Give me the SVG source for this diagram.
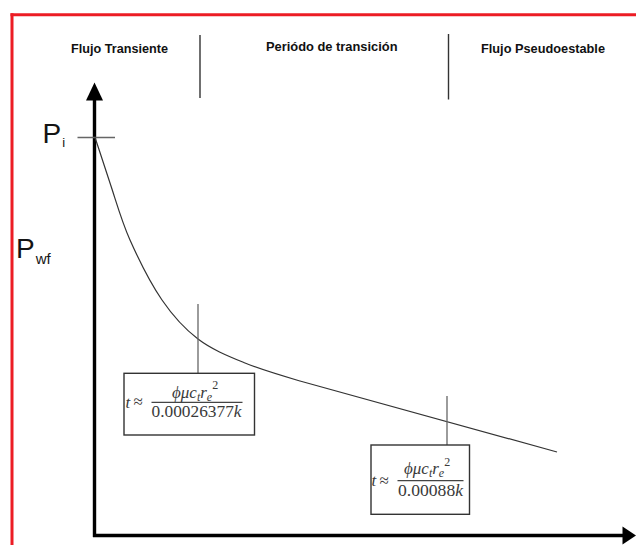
<svg xmlns="http://www.w3.org/2000/svg" width="636" height="545" viewBox="0 0 636 545">
  <style>
    .frame { stroke: #ec1c24; stroke-width: 3; fill: none; }
    .head { font-family: "Liberation Sans", Arial, sans-serif; font-weight: bold; font-size: 12.6px; fill: #111; }
    .sep { stroke: #333; stroke-width: 1.4; }
    .axis { stroke: #000; stroke-width: 3.4; fill: none; }
    .lbl { font-family: "Liberation Sans", Arial, sans-serif; fill: #141414; }
    .tick { stroke: #666; stroke-width: 1.3; }
    .curve { stroke: #333; stroke-width: 1.2; fill: none; }
    .box { fill: #fff; stroke: #333; stroke-width: 1.4; }
    .math { font-family: "Liberation Serif", "Times New Roman", serif; font-size: 17px; fill: #3a3a3a; }
    .it { font-style: italic; }
    .bar { stroke: #444; stroke-width: 1.2; }
  </style>

  <!-- red frame (top and left edges) -->
  <g id="frame">
    <line class="frame" x1="10.5" y1="14.8" x2="636" y2="14.8"/>
    <line class="frame" x1="12" y1="13.3" x2="12" y2="545"/>
  </g>

  <!-- flow regime headers and separators -->
  <g id="headers">
    <text class="head" x="71" y="53.3" textLength="97" lengthAdjust="spacingAndGlyphs">Flujo Transiente</text>
    <text class="head" x="266" y="51" textLength="131.5" lengthAdjust="spacingAndGlyphs">Periódo de transición</text>
    <text class="head" x="481" y="53.3" textLength="124" lengthAdjust="spacingAndGlyphs">Flujo Pseudoestable</text>
    <line class="sep" x1="200" y1="35" x2="200" y2="98"/>
    <line class="sep" x1="448.5" y1="34" x2="448.5" y2="99.5"/>
  </g>

  <!-- axes -->
  <g id="axes">
    <line class="axis" x1="94.5" y1="98" x2="94.5" y2="537"/>
    <polygon points="94.5,82.5 86,100.5 103,100.5" fill="#000"/>
    <line class="axis" x1="93" y1="535.5" x2="624" y2="535.5"/>
    <polygon points="636,535.5 622.5,526.5 622.5,544.5" fill="#000"/>
  </g>

  <!-- axis labels -->
  <g id="labels">
    <line class="tick" x1="77.5" y1="137.5" x2="115" y2="137.5"/>
    <text class="lbl" x="42.5" y="143.3" font-size="28">P<tspan font-size="13" dy="4" dx="1">i</tspan></text>
    <text class="lbl" x="16" y="258.3" font-size="28">P<tspan font-size="15" dy="5.7" dx="1">wf</tspan></text>
  </g>

  <!-- pressure decline curve -->
  <g id="curve">
    <path class="curve" d="M95,137.5 C100,152.3 104.2,165.8 110,183 C115.8,200.2 121.3,220.5 130,240 C138.7,259.5 150.7,283.5 162,300 C173.3,316.5 184.2,328.5 198,339 C211.8,349.5 228,356 245,363 C262,370 281.7,375.7 300,381 L557,452"/>
  </g>

  <!-- end of transient flow -->
  <g id="marker-transient">
    <line class="tick" x1="198" y1="304" x2="198" y2="373"/>
    <rect class="box" x="124" y="373.3" width="130.5" height="61.7"/>
    <text class="math it" x="125.5" y="407.5" font-size="18">t</text>
    <text class="math" x="133.5" y="407" font-size="18">≈</text>
    <text class="math it" x="172" y="397.5">ϕμc<tspan font-size="12" dy="3">t</tspan><tspan dy="-3">r</tspan><tspan font-size="12" dy="3">e</tspan><tspan font-size="12" font-style="normal" dx="0" dy="-11.5">2</tspan></text>
    <line class="bar" x1="151.5" y1="402.3" x2="242.5" y2="402.3"/>
    <text class="math" x="151.5" y="417" textLength="90" lengthAdjust="spacingAndGlyphs">0.00026377<tspan class="it">k</tspan></text>
  </g>

  <!-- start of pseudo-steady flow -->
  <g id="marker-pseudosteady">
    <line class="tick" x1="447" y1="396" x2="447" y2="445"/>
    <rect class="box" x="371" y="445" width="98.5" height="69.3"/>
    <text class="math it" x="371.5" y="486" font-size="18">t</text>
    <text class="math" x="379.5" y="485.5" font-size="18">≈</text>
    <text class="math it" x="404" y="474">ϕμc<tspan font-size="12" dy="3">t</tspan><tspan dy="-3">r</tspan><tspan font-size="12" dy="3">e</tspan><tspan font-size="12" font-style="normal" dx="0" dy="-11.5">2</tspan></text>
    <line class="bar" x1="397.5" y1="480.7" x2="463.5" y2="480.7"/>
    <text class="math" x="398" y="495.5" textLength="65" lengthAdjust="spacingAndGlyphs">0.00088<tspan class="it">k</tspan></text>
  </g>
</svg>
